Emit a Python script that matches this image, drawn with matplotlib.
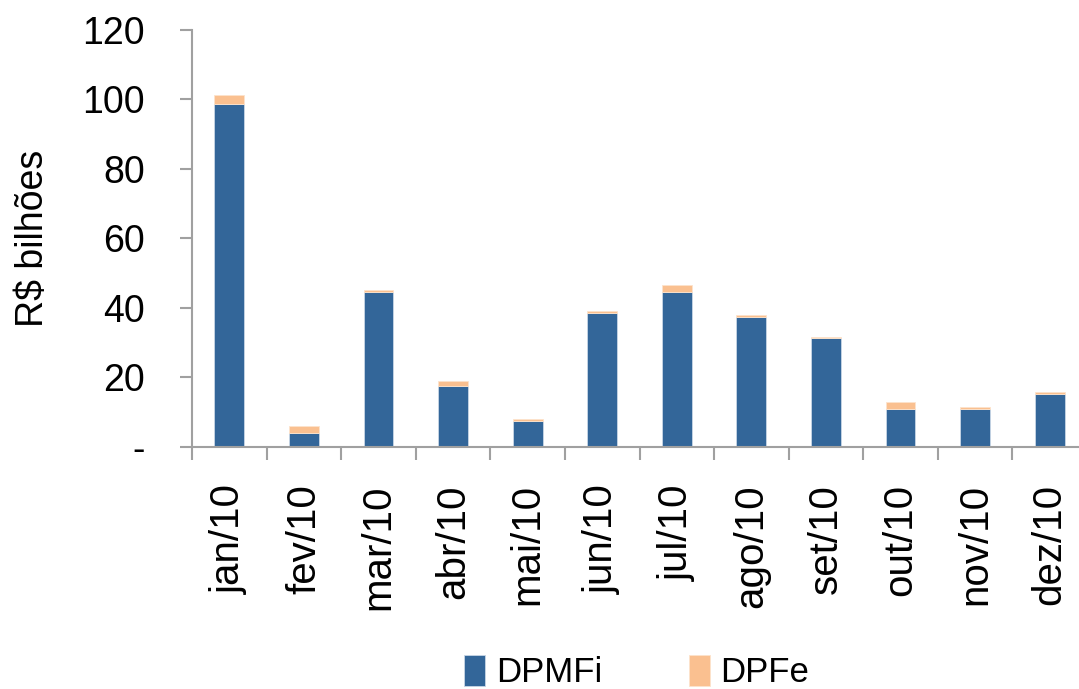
import matplotlib
matplotlib.use("Agg")
import matplotlib.pyplot as plt
import numpy as np

categories = ["jan/10", "fev/10", "mar/10", "abr/10", "mai/10", "jun/10",
              "jul/10", "ago/10", "set/10", "out/10", "nov/10", "dez/10"]
dpmfi = [98.7, 4.0, 44.6, 17.6, 7.5, 38.4, 44.6, 37.3, 31.2, 10.8, 10.8, 15.1]
dpfe = [2.6, 2.0, 0.6, 1.4, 0.5, 0.6, 2.0, 0.7, 0.5, 2.1, 0.7, 0.6]
yticks = [0, 20, 40, 60, 80, 100, 120]
yticklabels = ["-", "20", "40", "60", "80", "100", "120"]

plt.rcParams['font.family'] = ['Liberation Sans', 'DejaVu Sans']

W, H = 1079, 689
fig = plt.figure(figsize=(W / 100, H / 100), dpi=100)
ax = fig.add_axes([192 / W, 1 - 446.7 / H, (1087 - 192) / W, (446.7 - 30) / H])

x = np.arange(len(categories))
blue = "#336699"
orange = "#FAC090"
ax.bar(x, dpmfi, width=0.4, color=blue, edgecolor="#c8d6e6", linewidth=0.6, label="DPMFi")
ax.bar(x, dpfe, width=0.4, bottom=dpmfi, color=orange, edgecolor="#fde3cc", linewidth=0.6, label="DPFe")

ax.set_xlim(-0.5, len(categories) - 0.5)
ax.set_ylim(0, 120)
ax.set_yticks(yticks)
ax.set_yticklabels(yticklabels, fontsize=27)
ax.set_xticks(np.arange(len(categories) + 1) - 0.5)
ax.set_xticklabels([])
ax.set_xticks(x, minor=True)
ax.set_xticklabels(categories, minor=True, rotation=90, fontsize=29)
ax.tick_params(axis="x", which="minor", length=0, pad=27)
ax.tick_params(axis="x", which="major", length=9, width=1.5, color="#A0A0A0", direction="out")
ax.tick_params(axis="y", length=9, width=1.5, color="#A0A0A0", direction="out", pad=25)

for s in ["top", "right"]:
    ax.spines[s].set_visible(False)
for s in ["left", "bottom"]:
    ax.spines[s].set_color("#A0A0A0")
    ax.spines[s].set_linewidth(1.5)

ax.set_ylabel("R$ bilhões", fontsize=27)
ax.yaxis.set_label_coords(-0.157, 0.5)

handles, labels = ax.get_legend_handles_labels()
fig.legend(handles, labels, loc="center", bbox_to_anchor=(0.59, 0.025), ncol=2,
           frameon=False, fontsize=25, handlelength=0.6, handleheight=1.0,
           handletextpad=0.3, columnspacing=2.5)

fig.savefig("out.png", dpi=100)
